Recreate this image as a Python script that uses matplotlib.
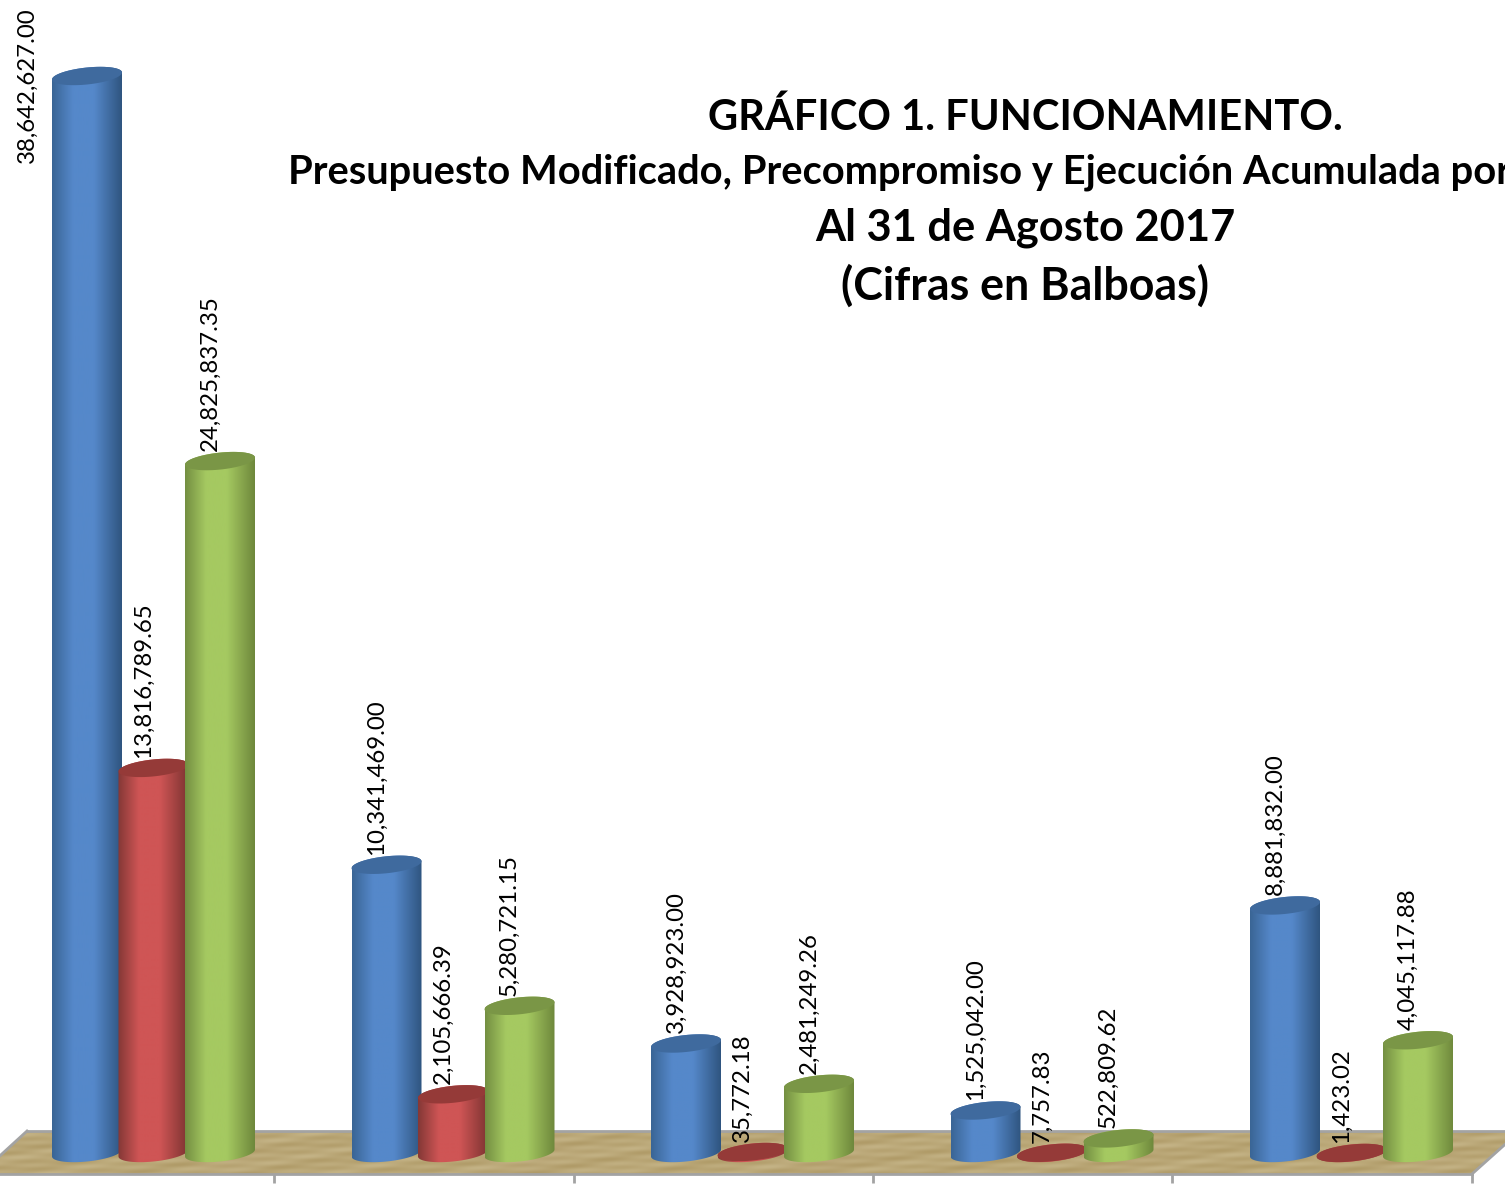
import matplotlib
matplotlib.use("Agg")
import matplotlib.pyplot as plt
import numpy as np
from matplotlib.colors import to_rgb
from matplotlib.patches import PathPatch, Polygon
from matplotlib.path import Path

# values per group, one list per series
presupuesto = [38642627.00, 10341469.00, 3928923.00, 1525042.00, 8881832.00]
precompromiso = [13816789.65, 2105666.39, 35772.18, 7757.83, 1423.02]
ejecucion = [24825837.35, 5280721.15, 2481249.26, 522809.62, 4045117.88]

series = [presupuesto, precompromiso, ejecucion]
offsets = [-66.5, 0, 66.5]
shades = [
    ("#3A6595", "#5588CA", "#2F5580", "#3F6A9E"),
    ("#843836", "#CF5555", "#7E3432", "#953A38"),
    ("#748F42", "#A5C961", "#6E883C", "#7A9646"),
]

W, H = 1505, 1186
BASE_PX = 1153
GROUP_PX = 299.5
FIRST_PX = 153.5
PX_PER_VALUE = 1077 / 38642627

fig = plt.figure(figsize=(W / 100, H / 100), dpi=100)
plt.rcParams["font.family"] = ["Lato", "DejaVu Sans"]

# pixel axes for the floor, ticks and title
bg = fig.add_axes([0, 0, 1, 1])
bg.set_xlim(0, W)
bg.set_ylim(H, 0)
bg.axis("off")

# wood look from a few sine waves
yy, xx = np.mgrid[1131:1175, 0:1505]
grain = (np.sin(xx * 0.047 + yy * 0.31) + np.sin(xx * 0.019 - yy * 0.83)
         + np.sin(xx * 0.11 + yy * 0.57)) / 3
light, dark = np.array(to_rgb("#C4B386")), np.array(to_rgb("#B09B68"))
wood = dark + (light - dark) * ((grain + 1) / 2)[:, :, np.newaxis]
floor_im = bg.imshow(wood, extent=(0, 1505, 1175, 1131), aspect="auto",
                     interpolation="bilinear", zorder=1)
floor = Polygon([(27, 1131), (1520, 1131), (1472, 1174), (-20, 1174)],
                closed=True, transform=bg.transData, facecolor="none", edgecolor="none")
bg.add_patch(floor)
floor_im.set_clip_path(floor)
for xs, ys in [((27, 1505), (1131, 1131)), ((27, -20), (1131, 1174)),
               ((-20, 1472), (1174, 1174)), ((1472, 1520), (1174, 1131))]:
    bg.plot(xs, ys, color="#A3A3A3", lw=2, zorder=2)
bg.vlines([274, 574, 873, 1172, 1472], 1174, 1183, color="#A3A3A3", lw=2, zorder=2)
bg.set_xlim(0, W)
bg.set_ylim(H, 0)

# chart axes, x in groups and y in balboas
ax = fig.add_axes([0, 0, 1, 1])
ax.patch.set_alpha(0)
ax.axis("off")


def ellipse(x, v, start, stop):
    t = np.linspace(start, stop, 60)
    px = 35 * np.cos(t) / GROUP_PX
    py = (8.5 * np.sin(t) + 3.5 * np.cos(t)) / PX_PER_VALUE
    return np.column_stack([x + px, v + py])


def cylinder(x, value, colors):
    left, mid, right, top = colors
    stops = [0, 0.3, 0.6, 0.8, 1]
    grad = np.array([np.interp(np.linspace(0, 1, 128), stops,
                               [to_rgb(left)[c], to_rgb(mid)[c], to_rgb(mid)[c],
                                to_rgb(mid)[c] * 0.5 + to_rgb(right)[c] * 0.5, to_rgb(right)[c]])
                     for c in range(3)]).T[np.newaxis, :, :]
    half_w = 35 / GROUP_PX
    pad = 12 / PX_PER_VALUE
    body = np.vstack([ellipse(x, 0, np.pi, 2 * np.pi), ellipse(x, value, 0, np.pi)])
    im = ax.imshow(grad, extent=(x - half_w, x + half_w, -pad, value + pad),
                   aspect="auto", interpolation="bilinear", zorder=2)
    patch = PathPatch(Path(np.vstack([body, body[:1]])), transform=ax.transData,
                      facecolor="none", edgecolor="none")
    ax.add_patch(patch)
    im.set_clip_path(patch)
    ax.add_patch(Polygon(ellipse(x, value, 0, 2 * np.pi), closed=True,
                         facecolor=top, edgecolor="none", zorder=2))


for s, values in enumerate(series):
    for g, value in enumerate(values):
        x = g + offsets[s] / GROUP_PX
        cylinder(x, value, shades[s])
        dx, dy = -10, 10
        if s == 0 and g == 0:
            dx, dy = -60, -87
        ax.annotate(f"{value:,.2f}", (x, value), xytext=(dx, dy),
                    textcoords="offset pixels", rotation=90, ha="center",
                    va="bottom", fontsize=17.3, color="black", zorder=3)

ax.set_xlim(-FIRST_PX / GROUP_PX, (W - FIRST_PX) / GROUP_PX)
ax.set_ylim(-(H - BASE_PX) / PX_PER_VALUE, BASE_PX / PX_PER_VALUE)

# title
bg.text(1025, 117, "GRÁFICO 1. FUNCIONAMIENTO.", ha="center", va="center",
        fontsize=30, fontweight="bold")
bg.text(288, 172, "Presupuesto Modificado, Precompromiso y Ejecución Acumulada por",
        ha="left", va="center", fontsize=28.7, fontweight="bold")
bg.text(1025, 228, "Al 31 de Agosto 2017", ha="center", va="center",
        fontsize=31.2, fontweight="bold")
bg.text(1025, 286, "(Cifras en Balboas)", ha="center", va="center",
        fontsize=32.2, fontweight="bold")

fig.savefig("out.png", dpi=100)
